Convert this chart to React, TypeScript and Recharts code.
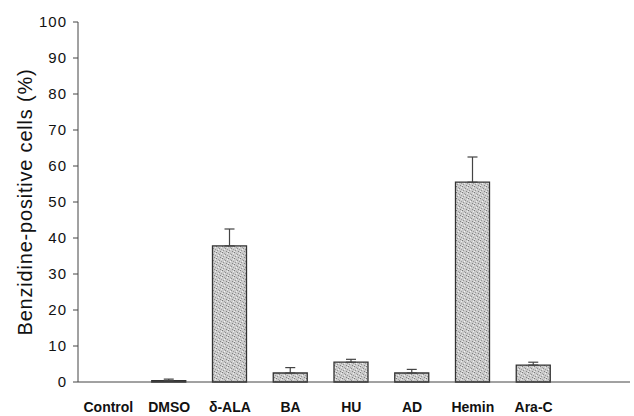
import React from 'react';
import { BarChart, Bar, XAxis, YAxis, ErrorBar } from 'recharts';

const categories = ['Control', 'DMSO', 'δ-ALA', 'BA', 'HU', 'AD', 'Hemin', 'Ara-C'];
const values = [0, 0.4, 37.8, 2.5, 5.5, 2.5, 55.5, 4.7];
const errors = [0, 0.4, 4.7, 1.5, 0.8, 1.0, 7.0, 0.8];
const yTicks = [0, 10, 20, 30, 40, 50, 60, 70, 80, 90, 100];

const data = categories.map((c, i) => ({ name: c, value: values[i], err: [0, errors[i]] }));

const font = 'Liberation Sans, Arial, sans-serif';

export default function App() {
  return (
    <div style={{ position: 'absolute', left: 0, top: 0, background: '#fff' }}>
      <BarChart width={634} height={416} data={data} margin={{ top: 22, right: 4, left: 0, bottom: 0 }} barSize={34}>
        <defs>
          <pattern id="stip" width="6" height="6" patternUnits="userSpaceOnUse">
            <rect width="6" height="6" fill="#cbcbcb" />
            <rect x="0" y="0" width="1" height="1" fill="#7a7a7a" />
            <rect x="3" y="2" width="1" height="1" fill="#8c8c8c" />
            <rect x="1" y="4" width="1" height="1" fill="#959595" />
            <rect x="4" y="5" width="1" height="1" fill="#848484" />
            <rect x="2" y="1" width="1" height="1" fill="#a5a5a5" />
            <rect x="5" y="3" width="1" height="1" fill="#9c9c9c" />
            <rect x="5" y="1" width="1" height="1" fill="#eeeeee" />
            <rect x="2" y="3" width="1" height="1" fill="#f2f2f2" />
            <rect x="0" y="5" width="1" height="1" fill="#ebebeb" />
          </pattern>
        </defs>
        <XAxis
          dataKey="name"
          height={34}
          tickLine={false}
          axisLine={{ stroke: '#444' }}
          padding={{ left: 0, right: 66 }}
          tick={{ fill: '#111', fontSize: 14, fontWeight: 'bold', fontFamily: font }}
          tickMargin={14}
          interval={0}
        />
        <YAxis
          width={78}
          domain={[0, 100]}
          ticks={yTicks}
          interval={0}
          tickSize={5}
          tickMargin={6}
          axisLine={{ stroke: '#444' }}
          tickLine={{ stroke: '#444' }}
          tick={{ fill: '#111', fontSize: 15, letterSpacing: 1, fontFamily: font }}
          label={{ value: 'Benzidine-positive cells (%)', angle: -90, position: 'insideLeft', offset: 25, style: { textAnchor: 'middle', fill: '#111', fontSize: 20, letterSpacing: 0.8, fontFamily: font } }}
        />
        <Bar dataKey="value" fill="url(#stip)" stroke="#333" strokeWidth={1.3} isAnimationActive={false}>
          <ErrorBar dataKey="err" direction="y" width={5} stroke="#444" strokeWidth={1.2} />
        </Bar>
      </BarChart>
    </div>
  );
}
